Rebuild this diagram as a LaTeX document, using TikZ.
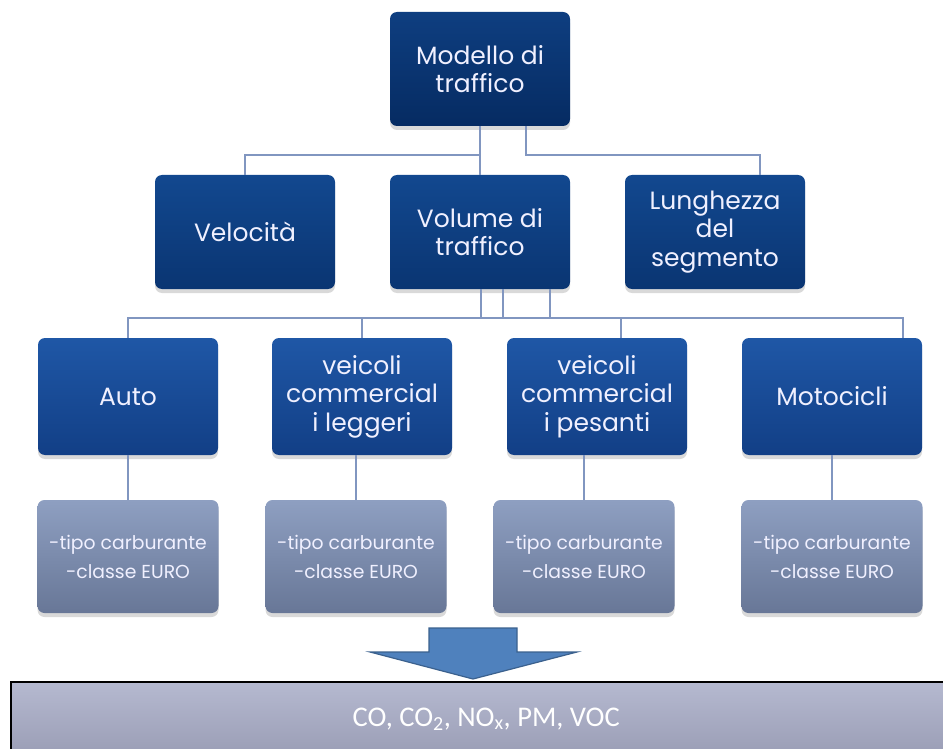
\documentclass[tikz,border=0pt]{standalone}
\usepackage{fontspec}
\setmainfont{Poppins}
\newfontfamily\bandfont{Carlito}
\usetikzlibrary{shadows}

\definecolor{topA}{HTML}{0E3E80}
\definecolor{topB}{HTML}{062B62}
\definecolor{midA}{HTML}{12488F}
\definecolor{midB}{HTML}{0A3572}
\definecolor{lowA}{HTML}{1F57A6}
\definecolor{lowB}{HTML}{123F86}
\definecolor{infoA}{HTML}{8E9FC1}
\definecolor{infoB}{HTML}{687797}
\definecolor{bandA}{HTML}{B5B9D0}
\definecolor{bandB}{HTML}{9A9DB5}
\definecolor{linkblue}{HTML}{8196C0}
\definecolor{arrowblue}{HTML}{4F81BD}

\tikzset{
    box/.style = {rounded corners=7pt, minimum width=180pt, minimum height=114pt,
        inner sep=3pt, align=center, text=white!94!blue,
        font=\fontsize{25}{28.5}\selectfont,
        drop shadow={shadow xshift=0pt, shadow yshift=-4pt, opacity=0.3}},
    boxtop/.style = {box, top color=topA, bottom color=topB},
    boxmid/.style = {box, top color=midA, bottom color=midB},
    boxlow/.style = {box, top color=lowA, bottom color=lowB, minimum height=117pt},
    infobox/.style = {box, top color=infoA, bottom color=infoB, minimum height=113pt,
        minimum width=181pt, font=\fontsize{18.8}{29}\selectfont},
    link/.style = {draw=linkblue, line width=2.4pt}
}

\begin{document}
\begin{tikzpicture}[x=1pt, y=-1pt]
    \useasboundingbox (0,0) rectangle (943,749);

    % livelli del modello
    \node[boxtop] at (480, 69) (modello) {Modello di\\traffico};
    \node[boxmid] at (245, 232) (velocita) {Velocità};
    \node[boxmid] at (480, 232) (volume) {Volume di\\traffico};
    \node[boxmid] at (715, 232) (lunghezza) {Lunghezza\\del\\segmento};

    \node[boxlow] at (128, 396.5) (auto) {Auto};
    \node[boxlow] at (362, 396.5) (leggeri) {veicoli\\commercial\\i leggeri};
    \node[boxlow] at (597, 396.5) (pesanti) {veicoli\\commercial\\i pesanti};
    \node[boxlow] at (832, 396.5) (moto) {Motocicli};

    \node[infobox] at (128, 556.5) (autoinfo) {-tipo carburante\\-classe EURO};
    \node[infobox] at (356, 556.5) (leggeriinfo) {-tipo carburante\\-classe EURO};
    \node[infobox] at (584, 556.5) (pesantiinfo) {-tipo carburante\\-classe EURO};
    \node[infobox] at (832, 556.5) (motoinfo) {-tipo carburante\\-classe EURO};

    % collegamenti
    \draw[link] (modello.south) -- (volume.north);
    \draw[link] ([xshift=46pt]modello.south) -- ++(0,29) -| ([xshift=45pt]lunghezza.north);
    \draw[link] (modello.south) ++(0,29) -| (velocita.north);

    \draw[link] ([xshift=1pt]volume.south) -- ++(0,29) -| (auto.north);
    \draw[link] ([xshift=23pt]volume.south) -- ++(0,29) -| (leggeri.north);
    \draw[link] ([xshift=70pt]volume.south) -- ++(0,29) -| ([xshift=71pt]moto.north);
    \draw[link] (volume.south) ++(0,29) -| ([xshift=24pt]pesanti.north);

    \draw[link] (autoinfo.north) -- (autoinfo.north |- auto.south);
    \draw[link] (leggeriinfo.north) -- (leggeriinfo.north |- leggeri.south);
    \draw[link] (pesantiinfo.north) -- (pesantiinfo.north |- pesanti.south);
    \draw[link] (motoinfo.north) -- (motoinfo.north |- moto.south);

    % freccia e risultato
    \node[draw=black, line width=2.4pt, top color=bandA, bottom color=bandB,
          anchor=north west, minimum width=950pt, minimum height=74pt,
          text=white, font=\bandfont\fontsize{28.5}{30}\selectfont] at (10,681) (emissioni)
          {CO, CO\textsubscript{2}, NO\textsubscript{x}, PM, VOC};
    \draw[fill=arrowblue, draw=arrowblue!75!black, line width=1.2pt]
        (429,628) -- (517,628) -- (517,652) -- (577,652) -- (473,679)
        -- (370,652) -- (429,652) -- cycle;
\end{tikzpicture}
\end{document}
